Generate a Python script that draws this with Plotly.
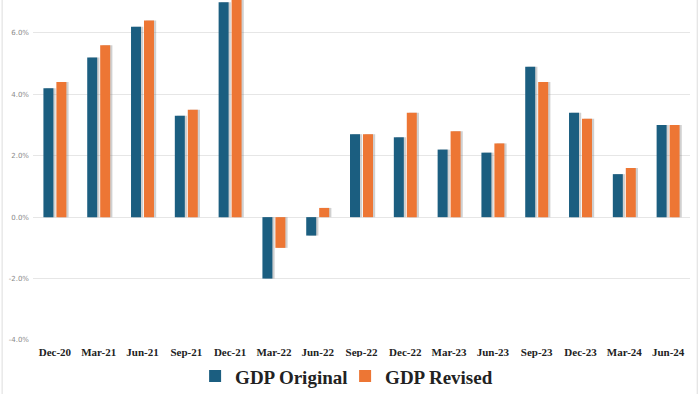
import plotly.graph_objects as go

categories = ["Dec-20", "Mar-21", "Jun-21", "Sep-21", "Dec-21", "Mar-22", "Jun-22", "Sep-22",
              "Dec-22", "Mar-23", "Jun-23", "Sep-23", "Dec-23", "Mar-24", "Jun-24"]
gdp_original = [4.2, 5.2, 6.2, 3.3, 7.0, -2.0, -0.6, 2.7, 2.6, 2.2, 2.1, 4.9, 3.4, 1.4, 3.0]
gdp_revised = [4.4, 5.6, 6.4, 3.5, 7.3, -1.0, 0.3, 2.7, 3.4, 2.8, 2.4, 4.4, 3.2, 1.6, 3.0]
y_ticks = [-4, -2, 0, 2, 4, 6]
y_tick_labels = ["-4.0%", "-2.0%", "0.0%", "2.0%", "4.0%", "6.0%"]

BAR_W = 0.228
OFFSETS = {"orig": -0.262, "rev": 0.034}
SHADOW_SHIFT = 0.05

fig = go.Figure()
# soft drop shadows
for key, vals in (("orig", gdp_original), ("rev", gdp_revised)):
    fig.add_trace(go.Bar(x=categories, y=vals, width=BAR_W, offset=OFFSETS[key] + SHADOW_SHIFT,
                         marker=dict(color="rgba(120,120,120,0.35)", line=dict(width=0)),
                         showlegend=False, hoverinfo="skip"))
fig.add_trace(go.Bar(x=categories, y=gdp_original, name="<b>GDP Original</b>",
                     width=BAR_W, offset=OFFSETS["orig"],
                     marker=dict(color="#1b5e80", line=dict(width=0))))
fig.add_trace(go.Bar(x=categories, y=gdp_revised, name="<b>GDP Revised</b>",
                     width=BAR_W, offset=OFFSETS["rev"],
                     marker=dict(color="#ed7634", line=dict(width=0))))

fig.update_layout(
    width=700, height=394,
    margin=dict(l=33, r=10, t=0, b=54, autoexpand=False),
    paper_bgcolor="white", plot_bgcolor="white",
    barmode="overlay",
    showlegend=True,
    legend=dict(orientation="h", x=0.493, xanchor="center", xref="container",
                y=0.045, yanchor="middle", yref="container",
                font=dict(family="Liberation Serif", size=19, color="#222222"),
                itemwidth=30, entrywidth=105, traceorder="normal"),
    xaxis=dict(showgrid=False, showline=False, ticks="", automargin=False,
               tickvals=categories, ticktext=["<b>%s</b>" % c for c in categories],
               tickfont=dict(family="Liberation Serif", size=11, color="#222222"),
               tickangle=0, ticklabelstandoff=4),
    yaxis=dict(range=[-4, 7.07], tickvals=y_ticks, ticktext=y_tick_labels,
               showgrid=True, gridcolor="#e6e6e6", gridwidth=1, automargin=False,
               zeroline=False, showline=False,
               tickfont=dict(family="DejaVu Sans", size=7, color="#8a8a8a"),
               ticklabelstandoff=3),
    shapes=[
        dict(type="line", xref="paper", yref="paper", x0=-0.047, x1=-0.047, y0=-0.16, y1=1,
             line=dict(color="#dddddd", width=1)),
        dict(type="line", xref="paper", yref="paper", x0=1.011, x1=1.011, y0=-0.16, y1=1,
             line=dict(color="#dddddd", width=1)),
    ],
)

fig.write_html("out.html", config={"displayModeBar": False},
               post_script="document.body.style.margin='0';")
